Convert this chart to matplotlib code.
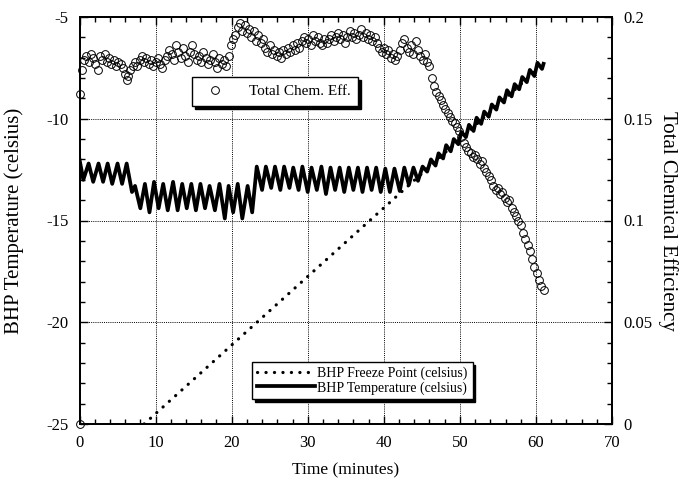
import matplotlib
matplotlib.use("Agg")
import matplotlib.pyplot as plt
from matplotlib.ticker import MultipleLocator, FuncFormatter

plt.rcParams['font.family'] = ['Liberation Serif', 'DejaVu Serif']
plt.rcParams['axes.unicode_minus'] = False

# ---- Data ----
eff_time = [0.0, 0.1, 0.3, 0.6, 0.9, 1.2, 1.5, 1.8, 2.1, 2.4, 2.7, 3.0, 3.3, 3.6, 3.9, 4.2, 4.5, 4.8,
            5.1, 5.4, 5.7, 6.0, 6.2, 6.4, 6.7, 7.0, 7.3, 7.6, 7.9, 8.2, 8.5, 8.8, 9.1, 9.4, 9.7,
            10.0, 10.3, 10.6, 10.9, 11.2, 11.5, 11.8, 12.1, 12.4, 12.7, 13.0, 13.3, 13.6, 13.9,
            14.2, 14.5, 14.8, 15.1, 15.4, 15.7, 16.0, 16.3, 16.6, 16.9, 17.2, 17.5, 17.8, 18.1,
            18.4, 18.7, 19.0, 19.3, 19.6, 19.9, 20.2, 20.5, 20.8, 21.1, 21.4, 21.7, 22.0, 22.3,
            22.6, 22.9, 23.2, 23.5, 23.8, 24.1, 24.4, 24.7, 25.0, 25.3, 25.6, 25.9, 26.2, 26.5,
            26.8, 27.1, 27.4, 27.7, 28.0, 28.3, 28.6, 28.9, 29.2, 29.5, 29.8, 30.1, 30.4, 30.7,
            31.0, 31.3, 31.6, 31.9, 32.2, 32.5, 32.8, 33.1, 33.4, 33.7, 34.0, 34.3, 34.6, 34.9,
            35.2, 35.5, 35.8, 36.1, 36.4, 36.7, 37.0, 37.3, 37.6, 37.9, 38.2, 38.5, 38.8, 39.1,
            39.4, 39.7, 40.0, 40.3, 40.6, 40.9, 41.2, 41.5, 41.8, 42.1, 42.4, 42.7, 43.0, 43.3,
            43.6, 43.9, 44.2, 44.5, 44.8, 45.1, 45.4, 45.7, 46.0, 46.3, 46.6, 46.9, 47.2, 47.5,
            47.8, 48.1, 48.4, 48.7, 49.0, 49.3, 49.6, 49.9, 50.2, 50.5, 50.8, 51.1, 51.4, 51.7,
            52.0, 52.3, 52.6, 52.9, 53.2, 53.5, 53.8, 54.1, 54.4, 54.7, 55.0, 55.3, 55.6, 55.9,
            56.2, 56.5, 56.8, 57.1, 57.4, 57.7, 58.0, 58.3, 58.6, 58.9, 59.2, 59.5, 59.8, 60.1,
            60.4, 60.7, 61.0]
eff_value = [0.000, 0.162, 0.174, 0.179, 0.181, 0.178, 0.182, 0.180, 0.177, 0.174, 0.181, 0.179,
             0.182, 0.178, 0.180, 0.177, 0.179, 0.176, 0.178, 0.177, 0.175, 0.172, 0.169, 0.171,
             0.174, 0.176, 0.178, 0.176, 0.179, 0.181, 0.178, 0.180, 0.177, 0.179, 0.176, 0.178,
             0.180, 0.177, 0.175, 0.179, 0.181, 0.184, 0.182, 0.179, 0.186, 0.183, 0.180, 0.185,
             0.181, 0.178, 0.183, 0.186, 0.182, 0.179, 0.181, 0.178, 0.183, 0.180, 0.177, 0.179,
             0.182, 0.178, 0.175, 0.180, 0.177, 0.179, 0.176, 0.181, 0.186, 0.189, 0.191, 0.195,
             0.197, 0.193, 0.196, 0.192, 0.194, 0.190, 0.193, 0.188, 0.191, 0.187, 0.189, 0.185,
             0.183, 0.186, 0.182, 0.184, 0.181, 0.183, 0.180, 0.184, 0.182, 0.185, 0.183, 0.186,
             0.184, 0.187, 0.185, 0.188, 0.190, 0.187, 0.189, 0.186, 0.191, 0.188, 0.190, 0.187,
             0.186, 0.189, 0.187, 0.189, 0.191, 0.188, 0.190, 0.192, 0.189, 0.191, 0.187, 0.190,
             0.193, 0.190, 0.192, 0.189, 0.191, 0.194, 0.190, 0.192, 0.189, 0.191, 0.188, 0.190,
             0.187, 0.185, 0.183, 0.185, 0.182, 0.184, 0.180, 0.182, 0.179, 0.181, 0.184, 0.187,
             0.189, 0.185, 0.183, 0.186, 0.182, 0.188, 0.184, 0.181, 0.179, 0.182, 0.178, 0.176,
             0.170, 0.166, 0.163, 0.161, 0.159, 0.157, 0.155, 0.153, 0.151, 0.149, 0.148, 0.146,
             0.144, 0.141, 0.138, 0.136, 0.134, 0.133, 0.131, 0.132, 0.130, 0.128, 0.129, 0.126,
             0.124, 0.122, 0.120, 0.117, 0.115, 0.116, 0.113, 0.114, 0.111, 0.109, 0.110, 0.106,
             0.104, 0.102, 0.100, 0.098, 0.094, 0.091, 0.088, 0.085, 0.081, 0.077, 0.074, 0.071,
             0.068, 0.066]

temp_time = [0.0, 0.5, 1.2, 1.8, 2.5, 3.1, 3.7, 4.3, 5.0, 5.6, 6.2, 6.9, 7.3, 8.0,
             8.6, 9.2, 9.8, 10.4, 11.0, 11.6, 12.3, 12.9, 13.5, 14.1, 14.7, 15.3, 15.9, 16.5,
             17.1, 17.8, 18.4, 19.1, 19.6, 20.2, 20.8, 21.4, 22.1, 22.7,
             23.3, 24.0, 24.5, 25.2, 25.7, 26.4, 26.9, 27.6, 28.1, 28.8, 29.3, 30.0, 30.5, 31.2,
             31.8, 32.4, 33.0, 33.6, 34.2, 34.8, 35.4, 36.0, 36.6, 37.2, 37.8, 38.4, 39.0, 39.6,
             40.2, 40.8, 41.4, 42.1, 42.7, 43.3, 43.9, 44.5, 45.1, 45.7, 46.2,
             46.8, 47.2, 47.8, 48.2, 48.8, 49.2, 49.8, 50.2, 50.8, 51.2, 51.8, 52.2, 52.8, 53.2,
             53.8, 54.2, 54.8, 55.2, 55.8, 56.2, 56.8, 57.2, 57.8, 58.2, 58.8, 59.2, 59.8, 60.2,
             60.8, 61.0]
temp_value = [-12.0, -13.0, -12.2, -13.1, -12.2, -13.1, -12.2, -13.2, -12.2, -13.2, -12.2, -13.6, -13.3, -14.4,
              -13.2, -14.6, -13.1, -14.4, -13.2, -14.5, -13.1, -14.5, -13.2, -14.4, -13.2, -14.5, -13.2, -14.4,
              -13.3, -14.5, -13.2, -14.9, -13.3, -14.6, -13.2, -14.9, -13.3, -14.6,
              -12.35, -13.5, -12.35, -13.4, -12.35, -13.5, -12.35, -13.4, -12.4, -13.5, -12.35, -13.6, -12.4, -13.5,
              -12.35, -13.7, -12.4, -13.5, -12.4, -13.6, -12.4, -13.5, -12.4, -13.6, -12.4, -13.5, -12.4, -13.6,
              -12.45, -13.6, -12.45, -13.55, -12.4, -13.25, -12.4, -13.05, -12.35, -12.6, -12.0,
              -12.3, -11.7, -11.95, -11.3, -11.6, -11.0, -11.25, -10.65, -10.9, -10.3, -10.6, -9.95, -10.25, -9.65,
              -9.9, -9.3, -9.55, -8.95, -9.2, -8.6, -8.9, -8.3, -8.55, -7.95, -8.2, -7.6, -7.9, -7.25,
              -7.55, -7.3]

freeze_time = [8.5, 61.0]
freeze_value = [-25.0, -7.3]

x_ticks = [0, 10, 20, 30, 40, 50, 60, 70]
y_ticks = [-25, -20, -15, -10, -5]
eff_ticks = [0, 0.05, 0.1, 0.15, 0.2]

# ---- Figure ----
fig = plt.figure(figsize=(6.8, 4.87), dpi=100)
ax = fig.add_axes([79.5/680, 1 - 424/487, (612 - 79.5)/680, (424 - 17)/487])
ax2 = ax.twinx()

ax.set_xlim(0, 70)
ax.set_ylim(-25, -5)
ax2.set_ylim(0, 0.2)

grid_kw = dict(color='black', linestyle=(0, (1, 1.2)), linewidth=0.7)
ax.grid(True, which='major', **grid_kw)
ax.set_axisbelow(True)

ax.plot(freeze_time, freeze_value, color='black', linestyle=(0, (0.05, 2.6)),
        linewidth=2.3, dash_capstyle='round', label='BHP Freeze Point (celsius)', zorder=3)
ax.plot(temp_time, temp_value, color='black', linewidth=2.7, solid_joinstyle='round',
        label='BHP Temperature (celsius)', zorder=4)

ax2.plot(eff_time, eff_value, linestyle='none', marker='o', markersize=5.6,
         markerfacecolor='none', markeredgecolor='black', markeredgewidth=0.7,
         label='Total Chem. Eff.', clip_on=False)

ax.set_xticks(x_ticks)
ax.set_yticks(y_ticks)
ax2.set_yticks(eff_ticks)
ax2.yaxis.set_major_formatter(FuncFormatter(lambda v, p: '%g' % v))
ax.xaxis.set_minor_locator(MultipleLocator(2))
ax.yaxis.set_minor_locator(MultipleLocator(1))
ax2.yaxis.set_minor_locator(MultipleLocator(0.01))

for a in (ax, ax2):
    for s in a.spines.values():
        s.set_linewidth(1.3)
ax.tick_params(which='both', direction='in', top=True, right=False, labelsize=12, width=1.0, pad=8)
ax.tick_params(which='major', length=6)
ax.tick_params(which='minor', length=3.5)
ax2.tick_params(which='both', direction='in', labelsize=12, width=1.0, pad=8)
ax2.tick_params(which='major', length=6)
ax2.tick_params(which='minor', length=3.5)

ax.set_xlabel('Time (minutes)', fontsize=12.5, labelpad=8)
ax.set_ylabel('BHP Temperature (celsius)', fontsize=15, va='center')
ax2.set_ylabel('Total Chemical Efficiency', fontsize=15, rotation=-90, va='center')
ax.yaxis.set_label_coords((14 - 79.5) / 532.5, 0.5)
ax2.yaxis.set_label_coords((668 - 79.5) / 532.5, 0.5)

h1, l1 = ax.get_legend_handles_labels()
h2, l2 = ax2.get_legend_handles_labels()

shadow = {'color': 'black', 'alpha': 1.0, 'ox': 2, 'oy': -2}

leg1 = ax2.legend(h2, l2, loc='upper left', bbox_to_anchor=(192/680, 1 - 77/487),
                  bbox_transform=fig.transFigure, fancybox=False, framealpha=1,
                  edgecolor='black', fontsize=11, borderpad=0.5, handletextpad=1.2,
                  borderaxespad=0, shadow=shadow)
leg1.get_frame().set_linewidth(1.0)
ax2.add_artist(leg1)

leg2 = ax2.legend(h1, l1, loc='upper left', bbox_to_anchor=(252/680, 1 - 362/487),
                  bbox_transform=fig.transFigure, fancybox=False, framealpha=1,
                  edgecolor='black', fontsize=10, borderpad=0.35, handletextpad=0.15,
                  labelspacing=0.05, handlelength=4.2, borderaxespad=0, shadow=shadow)
leg2.get_frame().set_linewidth(1.0)

for lg in (leg1, leg2):
    lg.set_zorder(10)

fig.savefig('out.png', dpi=100)
